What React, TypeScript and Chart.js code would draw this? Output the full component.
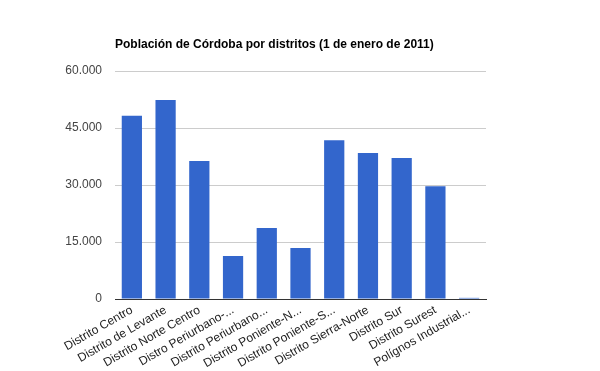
import React, { useEffect, useRef } from "react";
import { Chart, registerables } from "chart.js";

Chart.register(...registerables);

const categories = [
  "Distrito Centro",
  "Distrito de Levante",
  "Distrito Norte Centro",
  "Distro Periurbano-...",
  "Distrito Periurbano...",
  "Distrito Poniente-N...",
  "Distrito Poniente-S...",
  "Distrito Sierra-Norte",
  "Distrito Sur",
  "Distrito Surest",
  "Polígnos Industrial...",
];
const poblacion = [48200, 52400, 36300, 11300, 18700, 13400, 41800, 38400, 37100, 29700, 300];
const yTicks = [0, 15000, 30000, 45000, 60000];
const titleText = "Población de Córdoba por distritos (1 de enero de 2011)";

const FONT = "'Liberation Sans', Arial, sans-serif";

export default function App() {
  const ref = useRef<HTMLCanvasElement | null>(null);
  useEffect(() => {
    document.body.style.margin = "0";
    const titlePlugin = {
      id: "customTitle",
      afterDraw(chart: any) {
        const ctx = chart.ctx;
        ctx.save();
        ctx.font = "bold 12px " + FONT;
        ctx.fillStyle = "#000";
        ctx.textAlign = "left";
        ctx.textBaseline = "middle";
        ctx.fillText(titleText, chart.chartArea.left, 45);
        ctx.restore();
      },
    };
    const chart = new Chart(ref.current!, {
      type: "bar",
      data: {
        labels: categories,
        datasets: [
          {
            data: poblacion,
            backgroundColor: "#3366cc",
            barPercentage: 0.6,
            categoryPercentage: 1,
          },
        ],
      },
      plugins: [titlePlugin],
      options: {
        responsive: false,
        animation: false,
        layout: { padding: { top: 71, right: 114, left: 0, bottom: 0 } },
        plugins: { legend: { display: false }, tooltip: { enabled: false }, title: { display: false } },
        scales: {
          x: {
            grid: { display: false, drawTicks: false },
            border: { color: "#333", width: 1 },
            ticks: {
              autoSkip: false,
              minRotation: 30,
              maxRotation: 30,
              padding: 4,
              color: "#222",
              font: { family: FONT, size: 12 },
            },
            afterFit(scale: any) {
              scale.height = 72;
            },
          },
          y: {
            min: 0,
            max: 60000,
            afterBuildTicks(scale: any) {
              scale.ticks = yTicks.map((v) => ({ value: v }));
            },
            grid: { color: "#cccccc", drawTicks: false },
            border: { display: false },
            ticks: {
              padding: 13,
              color: "#444",
              font: { family: FONT, size: 12 },
              callback: (v: any) => Number(v).toLocaleString("de-DE"),
            },
            afterFit(scale: any) {
              scale.width = 115;
            },
          },
        },
      },
    });
    return () => chart.destroy();
  }, []);
  return (
    <div style={{ width: 600, height: 371, background: "#fff" }}>
      <canvas ref={ref} width={600} height={371} />
    </div>
  );
}
